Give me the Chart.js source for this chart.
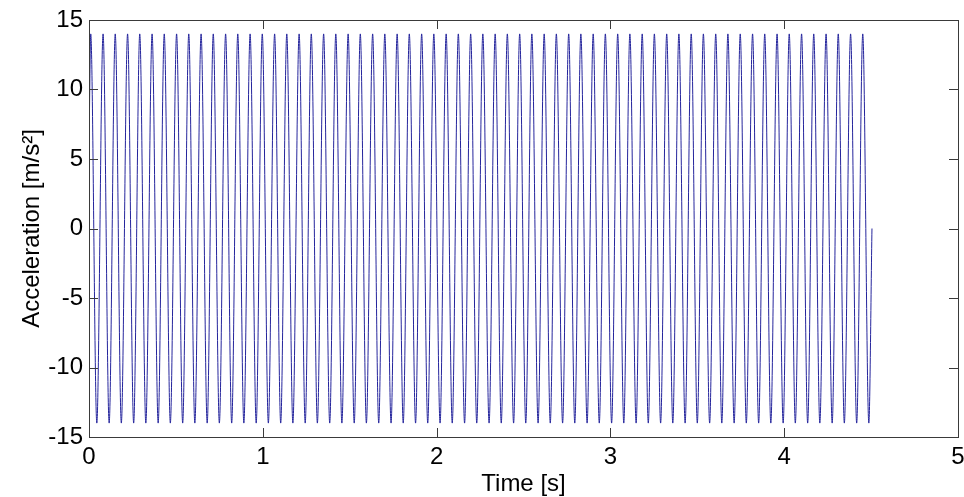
<!DOCTYPE html>
<html>
<head>
<meta charset="utf-8">
<title>Acceleration</title>
<script src="https://cdn.jsdelivr.net/npm/chart.js@4/dist/chart.umd.min.js"></script>
<style>
  html, body { margin: 0; padding: 0; background: #fff; }
  canvas { display: block; }
</style>
</head>
<body>
<canvas id="accelChart" width="964" height="497"></canvas>
<script>
// tick labels
const timeTicks = [0, 1, 2, 3, 4, 5];
const accelTicks = [-15, -10, -5, 0, 5, 10, 15];

// signal: start point, crest times, trough times, end point
const startPoint = { t: 0, a: 5.5 };
const endPoint = { t: 4.505, a: 0 };

const peakTimes = [
    0.010, 0.081, 0.151, 0.222, 0.292, 0.363, 0.433, 0.504, 0.574, 0.645,
    0.715, 0.786, 0.856, 0.927, 0.997, 1.068, 1.138, 1.209, 1.279, 1.350,
    1.420, 1.491, 1.561, 1.632, 1.702, 1.773, 1.843, 1.914, 1.984, 2.055,
    2.125, 2.196, 2.266, 2.337, 2.407, 2.478, 2.548, 2.619, 2.689, 2.760,
    2.830, 2.901, 2.971, 3.042, 3.112, 3.183, 3.253, 3.324, 3.394, 3.465,
    3.535, 3.606, 3.676, 3.747, 3.818, 3.888, 3.959, 4.029, 4.100, 4.170,
    4.241, 4.311, 4.382, 4.452
];
const peakValues = [
    14, 14, 14, 14, 14, 14, 14, 14, 14, 14,
    14, 14, 14, 14, 14, 14, 14, 14, 14, 14,
    14, 14, 14, 14, 14, 14, 14, 14, 14, 14,
    14, 14, 14, 14, 14, 14, 14, 14, 14, 14,
    14, 14, 14, 14, 14, 14, 14, 14, 14, 14,
    14, 14, 14, 14, 14, 14, 14, 14, 14, 14,
    14, 14, 14, 14
];

const troughTimes = [
    0.045, 0.116, 0.186, 0.257, 0.327, 0.398, 0.468, 0.539, 0.609, 0.680,
    0.750, 0.821, 0.891, 0.962, 1.032, 1.103, 1.173, 1.244, 1.314, 1.385,
    1.455, 1.526, 1.596, 1.667, 1.738, 1.808, 1.879, 1.949, 2.020, 2.090,
    2.161, 2.231, 2.302, 2.372, 2.443, 2.513, 2.584, 2.654, 2.725, 2.795,
    2.866, 2.936, 3.007, 3.077, 3.148, 3.218, 3.289, 3.359, 3.430, 3.500,
    3.571, 3.641, 3.712, 3.782, 3.853, 3.923, 3.994, 4.064, 4.135, 4.205,
    4.276, 4.346, 4.417, 4.487
];
const troughValues = [
    -14, -14, -14, -14, -14, -14, -14, -14, -14, -14,
    -14, -14, -14, -14, -14, -14, -14, -14, -14, -14,
    -14, -14, -14, -14, -14, -14, -14, -14, -14, -14,
    -14, -14, -14, -14, -14, -14, -14, -14, -14, -14,
    -14, -14, -14, -14, -14, -14, -14, -14, -14, -14,
    -14, -14, -14, -14, -14, -14, -14, -14, -14, -14,
    -14, -14, -14, -14
];

function buildSignal() {
    const pts = [{ x: startPoint.t, y: startPoint.a }];
    peakTimes.forEach((t, i) => {
        pts.push({ x: t, y: peakValues[i] });
        pts.push({ x: troughTimes[i], y: troughValues[i] });
    });
    pts.push({ x: endPoint.t, y: endPoint.a });
    return pts;
}

const FONT = 'Liberation Sans, Arial, sans-serif';
const FRAME = '#3a3a3a';

// MATLAB-style box with inward tick marks on all four sides
const boxTicks = {
    id: 'boxTicks',
    afterDraw(chart) {
        const { ctx, chartArea: a, scales: { x, y } } = chart;
        const len = 9;
        ctx.save();
        ctx.strokeStyle = FRAME;
        ctx.lineWidth = 1;
        ctx.beginPath();
        x.ticks.forEach((t) => {
            const px = Math.round(x.getPixelForValue(t.value)) + 0.5;
            ctx.moveTo(px, a.bottom);
            ctx.lineTo(px, a.bottom - len);
            ctx.moveTo(px, a.top);
            ctx.lineTo(px, a.top + len);
        });
        y.ticks.forEach((t) => {
            const py = Math.round(y.getPixelForValue(t.value)) + 0.5;
            ctx.moveTo(a.left, py);
            ctx.lineTo(a.left + len, py);
            ctx.moveTo(a.right, py);
            ctx.lineTo(a.right - len, py);
        });
        ctx.stroke();
        ctx.strokeRect(Math.round(a.left) + 0.5, Math.round(a.top) + 0.5,
            Math.round(a.right - a.left), Math.round(a.bottom - a.top));
        ctx.restore();
    },
};

new Chart(document.getElementById('accelChart'), {
    type: 'line',
    data: {
        datasets: [{
            data: buildSignal(),
            borderColor: '#24249c',
            borderWidth: 1,
            pointRadius: 0,
            cubicInterpolationMode: 'monotone',
            fill: false,
        }],
    },
    options: {
        responsive: false,
        animation: false,
        layout: { padding: { top: 20, right: 6, bottom: 0, left: 0 } },
        plugins: { legend: { display: false }, tooltip: { enabled: false } },
        scales: {
            x: {
                type: 'linear',
                min: timeTicks[0],
                max: timeTicks[timeTicks.length - 1],
                afterBuildTicks: (s) => { s.ticks = timeTicks.map((v) => ({ value: v })); },
                afterFit: (s) => {
                    s.height = 60;
                    s.paddingLeft = 0;
                    s.paddingRight = 0;
                },
                grid: { display: false, drawTicks: false },
                border: { display: false },
                ticks: {
                    padding: 6,
                    color: '#000',
                    font: { family: FONT, size: 24 },
                    maxRotation: 0,
                },
                title: {
                    display: true,
                    text: 'Time [s]',
                    color: '#000',
                    font: { family: FONT, size: 24 },
                    padding: { top: 0, bottom: -2 },
                },
            },
            y: {
                min: accelTicks[0],
                max: accelTicks[accelTicks.length - 1],
                afterBuildTicks: (s) => { s.ticks = accelTicks.map((v) => ({ value: v })); },
                afterFit: (s) => {
                    s.width = 89;
                    s.paddingTop = 0;
                    s.paddingBottom = 0;
                },
                grid: { display: false, drawTicks: false },
                border: { display: false },
                ticks: {
                    padding: 6,
                    color: '#000',
                    font: { family: FONT, size: 24 },
                },
                title: {
                    display: true,
                    text: 'Acceleration [m/s²]',
                    color: '#000',
                    font: { family: FONT, size: 24 },
                    padding: { top: 18, bottom: 0 },
                },
            },
        },
    },
    plugins: [boxTicks],
});
</script>
</body>
</html>
